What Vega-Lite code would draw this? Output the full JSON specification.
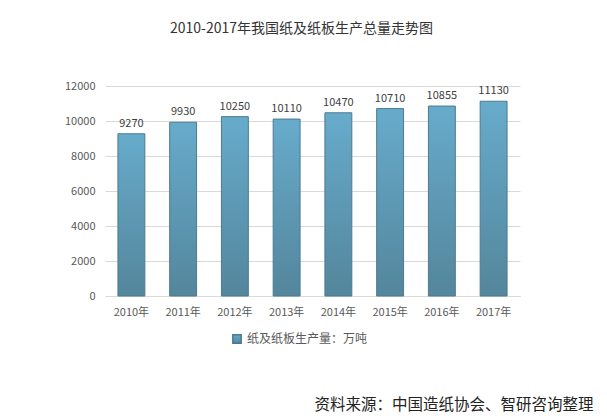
{
  "$schema": "https://vega.github.io/schema/vega-lite/v6.json",
  "width": 415,
  "height": 210,
  "autosize": "none",
  "padding": {"left": 105, "top": 86, "right": 87, "bottom": 124},
  "background": "white",
  "title": {
    "text": "2010-2017年我国纸及纸板生产总量走势图",
    "fontSize": 14,
    "fontWeight": "normal",
    "color": "#333333",
    "anchor": "middle",
    "dx": -11,
    "offset": 44
  },
  "data": {
    "values": [
      {"year": "2010年", "value": 9270, "series": "纸及纸板生产量：万吨"},
      {"year": "2011年", "value": 9930, "series": "纸及纸板生产量：万吨"},
      {"year": "2012年", "value": 10250, "series": "纸及纸板生产量：万吨"},
      {"year": "2013年", "value": 10110, "series": "纸及纸板生产量：万吨"},
      {"year": "2014年", "value": 10470, "series": "纸及纸板生产量：万吨"},
      {"year": "2015年", "value": 10710, "series": "纸及纸板生产量：万吨"},
      {"year": "2016年", "value": 10855, "series": "纸及纸板生产量：万吨"},
      {"year": "2017年", "value": 11130, "series": "纸及纸板生产量：万吨"}
    ]
  },
  "encoding": {
    "x": {
      "field": "year",
      "type": "nominal",
      "sort": null,
      "scale": {"paddingInner": 0.48, "paddingOuter": 0.25},
      "title": "资料来源：中国造纸协会、智研咨询整理",
      "axis": {
        "labelAngle": 0,
        "labelFontSize": 11,
        "labelColor": "#595959",
        "labelPadding": 10,
        "ticks": false,
        "domainColor": "#d9d9d9",
        "titleFontSize": 15.5,
        "titleFontWeight": "normal",
        "titleColor": "#222222",
        "titleAnchor": "end",
        "titleAlign": "right",
        "titleBaseline": "middle",
        "titleX": 488,
        "titleY": 108
      }
    },
    "y": {
      "field": "value",
      "type": "quantitative",
      "scale": {"domain": [0, 12000]},
      "title": null,
      "axis": {
        "values": [0, 2000, 4000, 6000, 8000, 10000, 12000],
        "format": "d",
        "labelFontSize": 11,
        "labelColor": "#595959",
        "labelPadding": 10,
        "ticks": false,
        "domain": false,
        "gridColor": "#d9d9d9"
      }
    }
  },
  "layer": [
    {
      "mark": {
        "type": "bar",
        "fill": {
          "gradient": "linear",
          "x1": 0, "y1": 0, "x2": 0, "y2": 1,
          "stops": [
            {"offset": 0, "color": "#67abcb"},
            {"offset": 1, "color": "#54869c"}
          ]
        },
        "strokeWidth": 1
      },
      "encoding": {
        "stroke": {
          "field": "series",
          "type": "nominal",
          "scale": {"range": ["#4b7b91"]},
          "legend": {
            "title": null,
            "orient": "none",
            "legendX": 126,
            "legendY": 247,
            "symbolType": "square",
            "symbolSize": 70,
            "symbolFillColor": "#5b9ab7",
            "labelFontSize": 12,
            "labelColor": "#595959",
            "encode": {"symbols": {"update": {"fill": {"value": "#5b9ab7"}}}}
          }
        }
      }
    },
    {
      "mark": {"type": "text", "dy": -10, "fontSize": 11, "color": "#404040"},
      "encoding": {"text": {"field": "value", "type": "quantitative", "format": "d"}}
    }
  ],
  "config": {
    "font": "Noto Sans CJK SC",
    "view": {"stroke": null}
  }
}
